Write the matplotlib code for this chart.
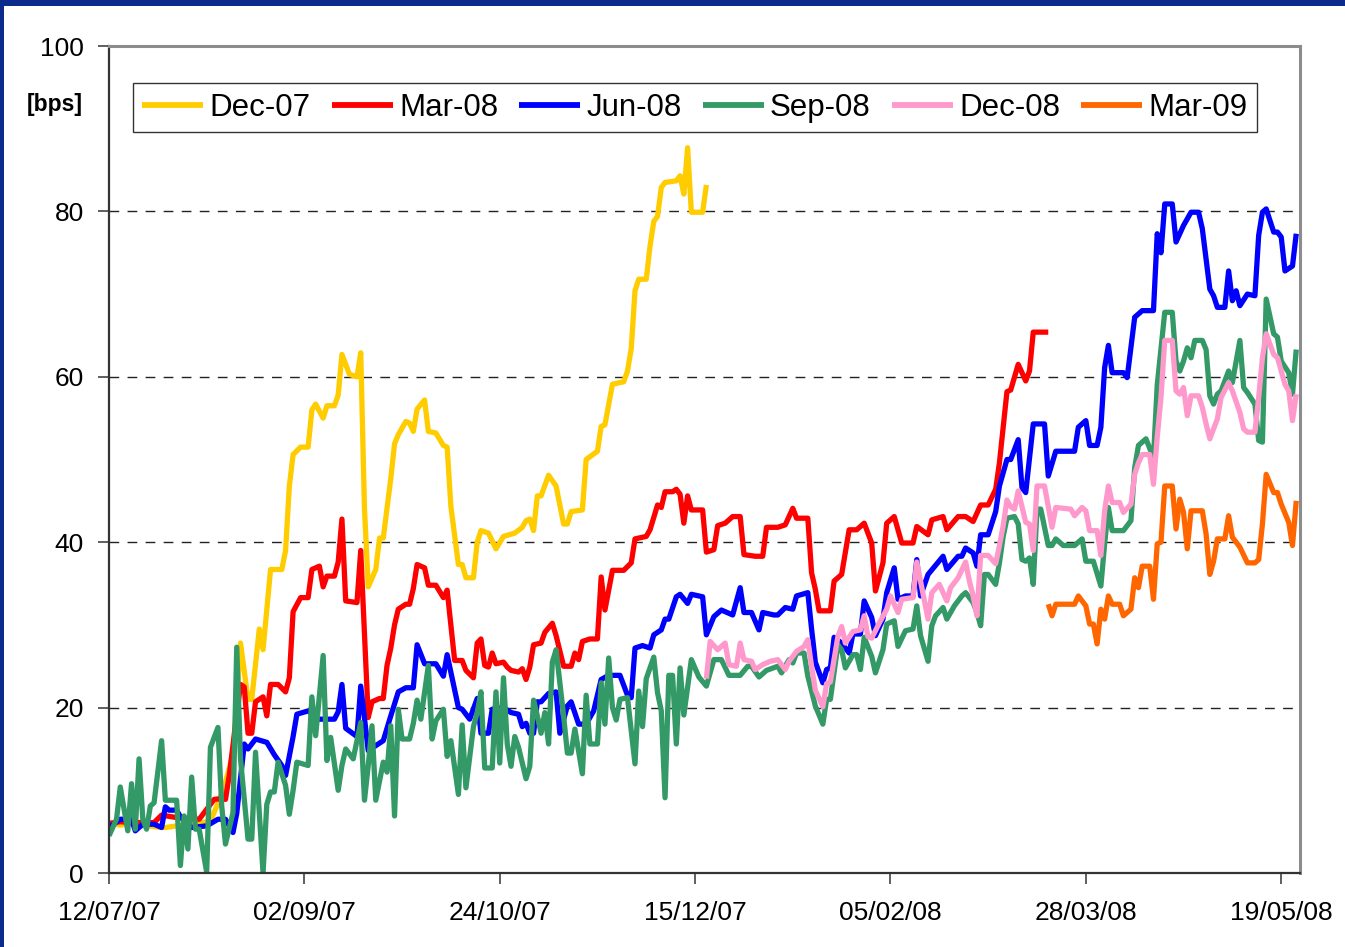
import numpy as np
import pandas as pd
import matplotlib
matplotlib.use("Agg")
import matplotlib.pyplot as plt
import matplotlib.dates as mdates
from matplotlib.patches import Rectangle

plt.rcParams['font.family'] = ['Liberation Sans', 'DejaVu Sans']

# day offset from 12/07/07, spread in bps
dec07 = [(0, 6.0), (3, 5.8), (6, 6.0), (9, 5.8), (12, 5.6), (15, 5.5), (18, 5.7), (21, 5.8), (24, 6.0),
         (27, 6.3), (29, 8.4), (31, 11), (33, 14.3), (35, 27.8), (37, 21), (38, 21), (40, 29.5), (41, 27),
         (43, 36.7), (46, 36.7), (47, 39), (48, 46.8), (49, 50.6), (51, 51.5), (53, 51.5), (54, 56),
         (55, 56.7), (57, 55), (58, 56.5), (60, 56.5), (61, 57.8), (62, 62.7), (64, 60.3), (66, 60),
         (67, 62.9), (68, 44), (69, 34.6), (71, 36.7), (72, 40.5), (73, 40.5), (75, 47.7), (76, 51.9),
         (77, 53), (79, 54.6), (80, 54.4), (81, 53.4), (82, 56.1), (84, 57.2), (85, 53.4), (87, 53.2),
         (89, 51.7), (90, 51.5), (91, 44.3), (93, 37.3), (94, 37.3), (95, 35.7), (97, 35.7), (98, 40),
         (99, 41.4), (101, 41.1), (103, 39.2), (105, 40.7), (108, 41.1), (110, 41.8), (111, 42.6),
         (112, 42.8), (113, 41.4), (114, 45.6), (115, 45.6), (117, 48.1), (119, 46.8), (121, 42.2),
         (122, 42.2), (123, 43.7), (126, 43.9), (127, 50), (130, 51), (131, 54), (132, 54.2), (134, 59.1),
         (137, 59.4), (138, 60.7), (139, 63.4), (140, 70.4), (141, 71.8), (143, 71.8), (144, 75.8),
         (145, 78.8), (146, 79.4), (147, 82.9), (148, 83.5), (151, 83.7), (152, 84.3), (153, 82.1),
         (154, 87.7), (155, 79.9), (158, 79.9), (159, 83.2)]

mar08 = [(0, 6), (3, 6.2), (6, 6.1), (9, 6.1), (12, 6.1), (14, 7), (18, 6.7), (24, 6.5), (28, 8.9), (30, 9),
         (31, 8.9), (32, 11.8), (35, 22.8), (36, 22.5), (37, 16.9), (38, 16.9), (39, 20.7), (41, 21.3),
         (42, 19), (43, 22.8), (45, 22.8), (47, 21.9), (48, 23.6), (49, 31.6), (51, 33.3), (53, 33.3),
         (54, 36.7), (56, 37.1), (57, 34.6), (58, 35.9), (60, 35.9), (61, 37.6), (62, 42.8), (63, 32.9),
         (66, 32.7), (67, 39), (69, 18.8), (70, 20.7), (72, 21.1), (73, 21.1), (74, 25.1), (75, 27.2),
         (76, 30), (77, 31.9), (79, 32.5), (80, 32.5), (81, 34.4), (82, 37.3), (84, 36.9), (85, 34.8),
         (87, 34.8), (89, 33.3), (90, 34.2), (92, 25.7), (94, 25.7), (95, 24.5), (97, 23.6), (98, 27.8),
         (99, 28.3), (100, 25.1), (101, 24.9), (102, 26.6), (103, 25.3), (105, 25.5), (106, 24.9),
         (107, 24.5), (109, 24.3), (110, 24.7), (111, 23.4), (112, 24.9), (113, 27.6), (115, 27.8),
         (116, 29.1), (118, 30.2), (119, 28.7), (121, 25), (123, 25), (124, 26.6), (125, 25.8), (126, 28),
         (128, 28.3), (130, 28.3), (131, 35.8), (132, 31.8), (134, 36.6), (137, 36.6), (139, 37.5),
         (140, 40.4), (143, 40.7), (144, 41.5), (146, 44.5), (147, 44.2), (148, 46.1), (150, 46.1),
         (151, 46.4), (152, 45.8), (153, 42.3), (154, 45.6), (155, 43.9), (158, 43.9), (159, 38.8),
         (161, 39.1), (162, 42), (164, 42.3), (166, 43.1), (168, 43.1), (169, 38.5), (172, 38.3),
         (174, 38.3), (175, 41.8), (178, 41.8), (180, 42.1), (182, 44.1), (183, 42.9), (186, 42.9),
         (187, 36.3), (188, 34.3), (189, 31.7), (192, 31.7), (193, 35.3), (195, 36.1), (197, 41.5),
         (199, 41.5), (201, 42.3), (203, 39.9), (204, 34.1), (206, 37.5), (207, 42.3), (209, 43.1),
         (211, 39.9), (214, 39.9), (215, 41.9), (218, 40.9), (219, 42.7), (222, 43.1), (223, 41.5),
         (226, 43.1), (228, 43.1), (230, 42.5), (232, 44.5), (234, 44.5), (236, 46.4), (237, 49.6),
         (239, 58.2), (240, 58.4), (242, 61.5), (244, 59.5), (245, 60.7), (246, 65.4), (250, 65.4)]

jun08 = [(0, 5.5), (3, 6.5), (6, 6.5), (7, 5.1), (9, 5.9), (12, 5.9), (14, 5.5), (15, 8), (16, 7.6), (18, 7.6),
         (19, 6.8), (22, 5.5), (26, 5.7), (29, 6.5), (31, 6.5), (33, 4.9), (34, 7.2), (36, 15.6), (37, 15),
         (39, 16.2), (42, 15.8), (44, 14.3), (46, 13), (47, 11.8), (49, 16.5), (50, 19.2), (53, 19.6),
         (56, 18.6), (60, 18.6), (61, 19.5), (62, 22.8), (63, 17.5), (66, 16.5), (67, 22.6), (69, 14.8),
         (73, 16), (75, 19), (77, 21.9), (79, 22.4), (81, 22.4), (82, 27.6), (84, 25.3), (87, 25.3),
         (89, 23.8), (90, 26.4), (93, 20), (94, 19.8), (96, 18.6), (98, 21.1), (99, 16.9), (101, 16.9),
         (102, 19.8), (105, 20), (107, 19.4), (109, 19.2), (110, 17.7), (111, 18.1), (112, 16.9),
         (113, 16.9), (114, 20.7), (115, 20.7), (117, 21.7), (119, 21.9), (120, 16.9), (122, 20.2),
         (123, 20.7), (125, 18), (127, 18), (129, 19.6), (131, 23.4), (133, 23.9), (136, 23.9), (138, 21.5),
         (139, 21.2), (140, 27.2), (142, 27.5), (144, 27.2), (145, 28.8), (147, 29.4), (148, 30.7),
         (149, 30.7), (151, 33.4), (152, 33.7), (154, 32.6), (155, 33.7), (158, 33.4), (159, 28.8),
         (161, 31), (163, 31.8), (166, 31.2), (168, 34.5), (169, 31.5), (171, 31.5), (173, 29.4),
         (174, 31.5), (177, 31.2), (178, 31.2), (180, 32.1), (182, 31.9), (183, 33.5), (186, 33.9),
         (187, 29.5), (188, 25.5), (190, 23), (191, 24.6), (192, 24.8), (193, 28.5), (195, 27.8),
         (197, 26.6), (198, 28.9), (200, 28.9), (201, 32.9), (203, 30.9), (204, 28.7), (206, 30.7),
         (207, 33.9), (209, 36.9), (210, 33.1), (212, 33.5), (214, 33.5), (215, 37.9), (216, 33.5),
         (218, 36.1), (222, 38.3), (223, 36.7), (226, 38.3), (227, 38.3), (228, 39.3), (230, 38.7),
         (231, 37.1), (232, 40.9), (234, 40.9), (236, 43.7), (237, 46.8), (239, 50), (240, 50), (242, 52.4),
         (243, 46.6), (244, 46), (246, 54.3), (249, 54.3), (250, 48), (252, 51), (257, 51), (258, 53.9),
         (260, 54.7), (261, 51.7), (263, 51.7), (264, 53.9), (265, 61.1), (266, 63.8), (267, 60.5),
         (270, 60.5), (271, 59.9), (273, 67.2), (275, 68), (278, 68), (279, 77.3), (280, 75), (281, 80.9),
         (283, 80.9), (284, 76.3), (286, 78.3), (288, 79.9), (290, 79.9), (291, 77.9), (293, 70.6),
         (294, 69.8), (295, 68.4), (297, 68.4), (298, 72.8), (299, 69.2), (300, 70.4), (301, 68.6),
         (303, 70), (305, 69.8), (306, 77.1), (307, 79.9), (308, 80.3), (310, 77.5), (311, 77.5),
         (312, 76.9), (313, 72.8), (315, 73.4), (316, 77.3)]

sep08 = [(0, 4.5), (2, 6.5), (3, 10.4), (5, 5.1), (6, 10.8), (7, 5.3), (8, 13.8), (9, 6.5), (10, 5.3), (11, 8.1),
         (12, 8.5), (14, 16), (15, 8.8), (18, 8.8), (19, 0.9), (20, 6.9), (21, 2.9), (22, 11.6), (23, 5.3),
         (24, 5.3), (26, 0.1), (27, 15.2), (29, 17.6), (30, 8.1), (31, 3.5), (33, 7.3), (34, 27.3), (35, 13.8),
         (37, 4.1), (38, 4.1), (39, 14.6), (41, 0), (42, 8.3), (43, 9.8), (44, 9.8), (45, 13.4), (47, 10.6),
         (48, 7.1), (49, 10), (50, 13.4), (53, 13), (54, 21.3), (55, 16.6), (57, 26.3), (58, 13.6), (59, 16.4),
         (61, 10), (62, 13), (63, 15), (65, 13.8), (67, 18.2), (68, 8.8), (69, 13), (70, 17.8), (71, 8.8),
         (73, 13.4), (74, 12.2), (75, 17.8), (76, 6.9), (77, 19.8), (78, 16.2), (80, 16.2), (81, 18.1),
         (82, 20.9), (83, 18.6), (85, 25.1), (86, 16.2), (87, 18.4), (89, 19.8), (90, 14.1), (91, 16),
         (93, 9.5), (94, 17.9), (95, 10.3), (97, 17.7), (98, 19.4), (99, 21.9), (100, 12.7), (102, 12.7),
         (103, 21.9), (104, 13.3), (105, 23.6), (106, 15.6), (107, 12.9), (108, 16.5), (109, 15.2),
         (111, 11.4), (112, 12.9), (113, 20.9), (114, 19), (115, 16.9), (116, 19.4), (117, 15.6),
         (118, 25.5), (119, 27), (121, 19), (122, 14.5), (123, 14.5), (124, 17.4), (126, 12), (127, 21.5),
         (128, 15.6), (130, 15.6), (131, 23), (132, 18), (133, 26), (134, 20), (135, 18.5), (136, 21),
         (138, 21.2), (140, 13.2), (141, 22), (142, 17.7), (143, 23.5), (145, 26.1), (146, 21.8),
         (147, 19.6), (148, 9.1), (149, 23.9), (150, 23.9), (151, 15.6), (152, 24.8), (153, 19.1),
         (155, 25.8), (157, 23.7), (159, 22.6), (161, 25.8), (163, 25.8), (165, 23.9), (168, 23.9),
         (170, 25), (171, 25), (173, 23.7), (175, 24.5), (178, 25), (179, 24.2), (181, 25.8), (182, 25.4),
         (183, 26.6), (185, 26.6), (186, 23.8), (188, 20.2), (190, 18), (191, 21), (192, 21), (194, 27.6),
         (195, 27), (196, 24.8), (198, 26.4), (199, 26.4), (200, 24.6), (201, 28.5), (203, 26.2),
         (204, 24.2), (206, 27), (207, 30.1), (209, 30.5), (210, 27.4), (212, 29.3), (214, 29.5),
         (215, 32.3), (216, 28.7), (218, 25.6), (219, 29.9), (220, 31.1), (222, 32.1), (223, 30.7),
         (225, 32.3), (227, 33.5), (228, 33.9), (230, 32.7), (231, 31.5), (232, 29.9), (233, 36.1),
         (234, 36.1), (236, 34.9), (237, 37.5), (238, 40.7), (239, 42.9), (241, 43.1), (242, 42.2),
         (243, 37.9), (244, 37.7), (245, 38.1), (246, 34.9), (247, 44), (248, 44), (250, 39.6), (251, 39.6),
         (252, 40.4), (254, 39.6), (257, 39.6), (259, 40.4), (260, 37.7), (262, 37.7), (264, 34.7),
         (265, 39.8), (266, 44.2), (267, 41.4), (270, 41.4), (272, 42.6), (273, 49), (274, 51.7),
         (276, 52.5), (278, 50.2), (279, 59), (281, 67.8), (283, 67.8), (284, 61.9), (285, 60.7),
         (286, 61.9), (287, 63.5), (288, 62.3), (289, 64.4), (291, 64.4), (292, 63.3), (293, 57.7),
         (294, 56.7), (295, 57.9), (296, 58.3), (298, 60.7), (299, 59.3), (301, 64.4), (302, 58.7),
         (303, 58.1), (305, 56.7), (306, 52.3), (307, 52.1), (308, 69.4), (310, 65.2), (311, 64.8),
         (312, 61.9), (314, 60.5), (315, 57.9), (316, 63.3)]

dec08 = [(159, 23.5), (160, 28), (162, 27), (164, 27.8), (165, 25.2), (167, 25), (168, 27.8), (169, 25.8),
         (171, 25.6), (172, 24.6), (174, 25.2), (176, 25.6), (178, 25.8), (180, 24.6), (181, 25.6),
         (183, 26.8), (185, 27.4), (186, 28.2), (187, 25), (188, 22.1), (190, 20.1), (191, 22.9),
         (192, 23.1), (194, 28.6), (195, 29.8), (196, 27.8), (198, 29.2), (200, 29.4), (201, 31.1),
         (202, 28.6), (203, 28.4), (205, 30.2), (207, 31.9), (208, 33.5), (210, 31.5), (211, 33.1),
         (214, 33.3), (215, 37.6), (218, 30.7), (219, 33.9), (221, 34.9), (223, 32.9), (224, 34.5),
         (226, 35.7), (228, 37.6), (229, 35.3), (230, 33.5), (231, 31.1), (232, 38.4), (234, 38.4),
         (236, 37.4), (237, 39.6), (238, 42), (239, 45.1), (240, 44.3), (241, 44), (242, 46.2), (244, 42.4),
         (245, 42.2), (246, 39), (247, 46.8), (249, 46.8), (251, 41.8), (252, 44.2), (256, 44), (257, 43.2),
         (259, 44.2), (260, 43.8), (261, 41.4), (263, 41.4), (264, 38.4), (265, 43.8), (266, 46.8),
         (267, 44.8), (269, 44.8), (270, 43.6), (272, 44.6), (273, 48.2), (274, 49.6), (275, 50.6),
         (277, 50.6), (278, 47), (279, 52.7), (280, 57.5), (281, 64.4), (283, 64.4), (284, 58.3),
         (285, 57.9), (286, 58.7), (287, 55.3), (288, 57.7), (290, 57.7), (291, 56.3), (292, 54.3),
         (293, 52.5), (295, 54.9), (296, 57.5), (298, 59.3), (299, 58.3), (301, 55.7), (302, 53.7),
         (303, 53.3), (305, 53.3), (306, 57.5), (307, 62.3), (308, 65.2), (310, 62.7), (311, 62.3),
         (313, 59.1), (314, 58.3), (315, 54.7), (316, 57.9)]

mar09 = [(250, 32.5), (251, 31.1), (252, 32.5), (257, 32.5), (258, 33.5), (260, 32.3), (261, 30.1), (262, 30.1),
         (263, 27.7), (264, 31.9), (265, 30.7), (266, 33.5), (267, 32.5), (269, 32.5), (270, 31.1),
         (272, 31.9), (273, 35.7), (274, 34.5), (275, 37.1), (277, 37.1), (278, 33.1), (279, 39.8),
         (280, 40), (281, 46.8), (283, 46.8), (284, 41.6), (285, 45.2), (286, 43.6), (287, 39.2),
         (288, 43.8), (291, 43.8), (292, 41), (293, 36.1), (294, 37.7), (295, 40.4), (297, 40.4),
         (298, 43.2), (299, 40.6), (301, 39.4), (303, 37.5), (305, 37.5), (306, 37.9), (307, 42.2),
         (308, 48.2), (310, 46), (311, 46), (312, 44.6), (314, 42.4), (315, 39.6), (316, 45)]

series_names = ["Dec-07", "Mar-08", "Jun-08", "Sep-08", "Dec-08", "Mar-09"]
series_data = [dec07, mar08, jun08, sep08, dec08, mar09]
series_colors = ["#FFCC00", "#FF0000", "#0000FF", "#339966", "#FF99CC", "#FF6600"]

start = pd.Timestamp("2007-07-12")
tick_dates = pd.date_range(start, periods=7, freq="52D")

fig = plt.figure(figsize=(13.45, 9.47), dpi=100)
fig.patch.set_facecolor("#0B2C8C")
fig.patches.append(Rectangle((4 / 1345, 0), 1, 1 - 6 / 947, transform=fig.transFigure,
                             facecolor="white", edgecolor="none", zorder=-10))

ax = fig.add_axes([109 / 1345, 1 - 873 / 947, 1191 / 1345, 827 / 947])
ax.set_zorder(2)
ax.set_facecolor("white")

for name, data, col in zip(series_names, series_data, series_colors):
    days = np.array([d for d, v in data])
    vals = np.array([v for d, v in data])
    dates = start + pd.to_timedelta(days, unit="D")
    ax.plot(dates, vals, color=col, lw=3.8, label=name, solid_joinstyle="round",
            solid_capstyle="butt")

ax.set_ylim(0, 100)
ax.set_yticks(np.arange(0, 101, 20))
ax.set_xlim(start, start + pd.Timedelta(days=317))
ax.set_xticks(tick_dates)
ax.xaxis.set_major_formatter(mdates.DateFormatter("%d/%m/%y"))

for y in [20, 40, 60, 80]:
    ax.axhline(y, color="#222222", lw=1.0, ls=(0, (7, 6)), zorder=0.5)

ax.tick_params(axis="both", direction="out", length=8, width=1.2, color="#444444",
               labelsize=19, labelcolor="black")
ax.tick_params(axis="y", pad=10)
ax.tick_params(axis="x", pad=12)

for side in ["left", "bottom"]:
    ax.spines[side].set_color("#333333")
    ax.spines[side].set_linewidth(1.6)
for side in ["top", "right"]:
    ax.spines[side].set_color("#8C8C8C")
    ax.spines[side].set_linewidth(2.2)

leg = ax.legend(loc="lower left", bbox_to_anchor=(0.02, 0.896, 0.944, 0.069), mode="expand",
                ncol=6, fontsize=22.5, frameon=True, fancybox=False, borderaxespad=0,
                handlelength=1.95, handletextpad=0.2, borderpad=0.3, columnspacing=0.6)
leg.get_frame().set_edgecolor("black")
leg.get_frame().set_linewidth(1.0)
for line in leg.get_lines():
    line.set_linewidth(4.2)

fig.text(55 / 1345, 1 - 104 / 947, "[bps]", fontsize=16.5, fontweight="bold",
         ha="center", va="center")

fig.savefig("out.png", dpi=100, facecolor=fig.get_facecolor())
